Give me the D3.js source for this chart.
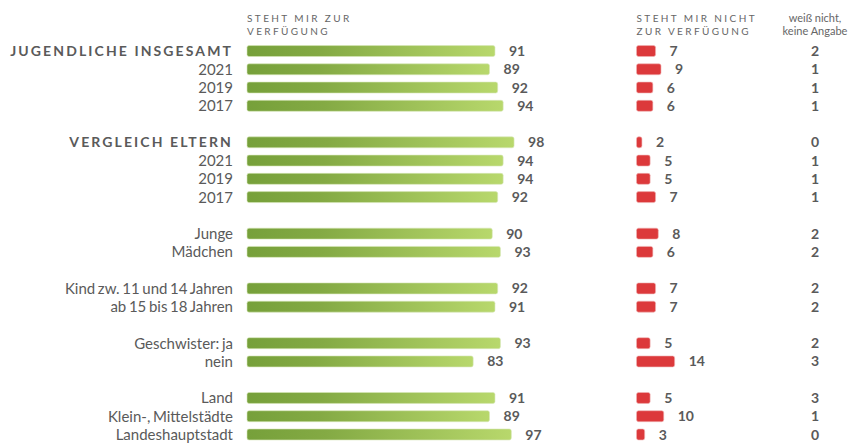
<!DOCTYPE html>
<html>
<head>
<meta charset="utf-8">
<script src="https://cdn.jsdelivr.net/npm/d3@7"></script>
<style>
  html, body { margin: 0; padding: 0; background: #fff; }
  svg { display: block; font-family: Lato, "Open Sans", sans-serif; }
</style>
</head>
<body>
<svg id="chart" width="848" height="445"></svg>
<script>
// Verfügbarkeit — Anteile in Prozent
const categories = [
  "JUGENDLICHE INSGESAMT", "2021", "2019", "2017",
  "VERGLEICH ELTERN", "2021", "2019", "2017",
  "Junge", "Mädchen",
  "Kind zw. 11 und 14 Jahren", "ab 15 bis 18 Jahren",
  "Geschwister: ja", "nein",
  "Land", "Klein-, Mittelstädte", "Landeshauptstadt"
];
// group index of each row (a blank row separates groups)
const groups = [0,0,0,0, 1,1,1,1, 2,2, 3,3, 4,4, 5,5,5];
// rows written in bold capitals
const headings = [true,false,false,false, true,false,false,false, false,false, false,false, false,false, false,false,false];

const available    = [91, 89, 92, 94, 98, 94, 94, 92, 90, 93, 92, 91, 93, 83, 91, 89, 97];
const notAvailable = [ 7,  9,  6,  6,  2,  5,  5,  7,  8,  6,  7,  7,  5, 14,  5, 10,  3];
const dontKnow     = [ 2,  1,  1,  1,  0,  1,  1,  1,  2,  2,  2,  2,  2,  3,  3,  1,  0];

const headerAvailable = ["STEHT MIR ZUR", "VERFÜGUNG"];
const headerNot = ["STEHT MIR NICHT", "ZUR VERFÜGUNG"];
const headerDk = ["weiß nicht,", "keine Angabe"];

const svg = d3.select("#chart");
const textColor = "#5a5a5a";

const rows = categories.map((c, i) => ({
  label: c, heading: headings[i], slot: i + groups[i],
  yes: available[i], no: notAvailable[i], dk: dontKnow[i]
}));
const nSlots = d3.max(rows, d => d.slot) + 1;

const y = d3.scaleBand()
  .domain(d3.range(nSlots))
  .range([41.9, 443.6])
  .paddingInner(0.4)
  .paddingOuter(0.2);

const xYes = d3.scaleLinear().domain([0, 100]).range([247, 247 + 272.5]);
const xNo  = d3.scaleLinear().domain([0, 100]).range([636.5, 636.5 + 272.5]);
const xDk = 815;

// gradient for the green bars
const defs = svg.append("defs");
const grad = defs.append("linearGradient")
  .attr("id", "greenGrad")
  .attr("x1", "0%").attr("y1", "0%").attr("x2", "100%").attr("y2", "0%");
grad.append("stop").attr("offset", "0%").attr("stop-color", "#76a03a");
grad.append("stop").attr("offset", "30%").attr("stop-color", "#84aa44");
grad.append("stop").attr("offset", "100%").attr("stop-color", "#b8d86c");

// column headers
function header(lines, x, anchor, spacing, size) {
  const t = svg.append("text")
    .attr("x", x).attr("y", 21.5)
    .attr("text-anchor", anchor)
    .attr("fill", "#666")
    .attr("font-size", size)
    .attr("letter-spacing", spacing);
  lines.forEach((l, i) => {
    t.append("tspan").attr("x", x).attr("dy", i === 0 ? 0 : 13).text(l);
  });
}
header(headerAvailable, 247, "start", 2.4, 10);
header(headerNot, 636.5, "start", 2.4, 10);
header(headerDk, xDk, "middle", 0, 11);

const row = svg.selectAll("g.row")
  .data(rows)
  .join("g")
  .attr("class", "row")
  .attr("transform", d => `translate(0,${y(d.slot)})`);

const bh = y.bandwidth();

// row labels
row.append("text")
  .attr("x", 233)
  .attr("y", bh / 2)
  .attr("dy", "0.36em")
  .attr("text-anchor", "end")
  .attr("fill", textColor)
  .attr("font-size", d => d.heading ? 14 : 15)
  .attr("font-weight", d => d.heading ? 700 : 400)
  .attr("letter-spacing", d => d.heading ? 2.1 : 0)
  .attr("word-spacing", d => d.heading ? 0 : -1.2)
  .text(d => d.label);

// green bars
row.append("rect")
  .attr("x", xYes(0))
  .attr("width", d => xYes(d.yes) - xYes(0))
  .attr("height", bh)
  .attr("rx", 2)
  .attr("fill", "url(#greenGrad)")
  .attr("stroke", "#d7e8b8")
  .attr("stroke-width", 0.6);

row.append("text")
  .attr("x", d => xYes(d.yes) + 14)
  .attr("y", bh / 2)
  .attr("dy", "0.36em")
  .attr("fill", textColor)
  .attr("font-size", 14)
  .attr("font-weight", 700)
  .text(d => d.yes);

// red bars
row.append("rect")
  .attr("x", xNo(0))
  .attr("width", d => xNo(d.no) - xNo(0))
  .attr("height", bh)
  .attr("rx", 2)
  .attr("fill", "#dc393b")
  .attr("stroke", "#f0b5b5")
  .attr("stroke-width", 0.6);

row.append("text")
  .attr("x", d => xNo(d.no) + 14)
  .attr("y", bh / 2)
  .attr("dy", "0.36em")
  .attr("fill", textColor)
  .attr("font-size", 14)
  .attr("font-weight", 700)
  .text(d => d.no);

// "don't know" column
row.append("text")
  .attr("x", xDk)
  .attr("y", bh / 2)
  .attr("dy", "0.36em")
  .attr("text-anchor", "middle")
  .attr("fill", textColor)
  .attr("font-size", 14)
  .attr("font-weight", 700)
  .text(d => d.dk);
</script>
</body>
</html>
